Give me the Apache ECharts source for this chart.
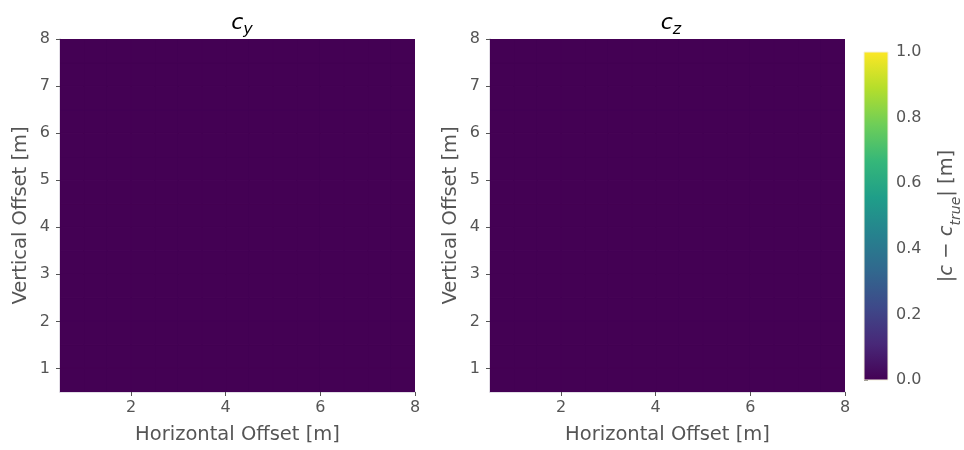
<!DOCTYPE html>
<html>
<head>
<meta charset="utf-8">
<script src="https://cdn.jsdelivr.net/npm/echarts@6/dist/echarts.min.js"></script>
<style>html,body{margin:0;padding:0;background:#fff}#c{width:964px;height:450px}</style>
</head>
<body>
<div id="c"></div>
<script>
// Cell edges (m)
var xEdges = [0.5, 1, 1.5, 2, 2.5, 3, 3.5, 4, 4.5, 5, 5.5, 6, 6.5, 7, 7.5, 8];
var yEdges = [0.5, 1, 1.5, 2, 2.5, 3, 3.5, 4, 4.5, 5, 5.5, 6, 6.5, 7, 7.5, 8];
// |c - c_true| for c_y (rows = y cells, cols = x cells)
var errCy = [
  [0,0,0,0,0,0,0,0,0,0,0,0,0,0,0],
  [0,0,0,0,0,0,0,0,0,0,0,0,0,0,0],
  [0,0,0,0,0,0,0,0,0,0,0,0,0,0,0],
  [0,0,0,0,0,0,0,0,0,0,0,0,0,0,0],
  [0,0,0,0,0,0,0,0,0,0,0,0,0,0,0],
  [0,0,0,0,0,0,0,0,0,0,0,0,0,0,0],
  [0,0,0,0,0,0,0,0,0,0,0,0,0,0,0],
  [0,0,0,0,0,0,0,0,0,0,0,0,0,0,0],
  [0,0,0,0,0,0,0,0,0,0,0,0,0,0,0],
  [0,0,0,0,0,0,0,0,0,0,0,0,0,0,0],
  [0,0,0,0,0,0,0,0,0,0,0,0,0,0,0],
  [0,0,0,0,0,0,0,0,0,0,0,0,0,0,0],
  [0,0,0,0,0,0,0,0,0,0,0,0,0,0,0],
  [0,0,0,0,0,0,0,0,0,0,0,0,0,0,0],
  [0,0,0,0,0,0,0,0,0,0,0,0,0,0,0]
];
// |c - c_true| for c_z
var errCz = [
  [0,0,0,0,0,0,0,0,0,0,0,0,0,0,0],
  [0,0,0,0,0,0,0,0,0,0,0,0,0,0,0],
  [0,0,0,0,0,0,0,0,0,0,0,0,0,0,0],
  [0,0,0,0,0,0,0,0,0,0,0,0,0,0,0],
  [0,0,0,0,0,0,0,0,0,0,0,0,0,0,0],
  [0,0,0,0,0,0,0,0,0,0,0,0,0,0,0],
  [0,0,0,0,0,0,0,0,0,0,0,0,0,0,0],
  [0,0,0,0,0,0,0,0,0,0,0,0,0,0,0],
  [0,0,0,0,0,0,0,0,0,0,0,0,0,0,0],
  [0,0,0,0,0,0,0,0,0,0,0,0,0,0,0],
  [0,0,0,0,0,0,0,0,0,0,0,0,0,0,0],
  [0,0,0,0,0,0,0,0,0,0,0,0,0,0,0],
  [0,0,0,0,0,0,0,0,0,0,0,0,0,0,0],
  [0,0,0,0,0,0,0,0,0,0,0,0,0,0,0],
  [0,0,0,0,0,0,0,0,0,0,0,0,0,0,0]
];
var xTicks = [2, 4, 6, 8];
var yTicks = [1, 2, 3, 4, 5, 6, 7, 8];
var cbTicks = [0, 0.2, 0.4, 0.6, 0.8, 1.0];
var cbRange = [0, 1];
var viridis = ['#440154','#482878','#3e4989','#31688e','#26828e','#1f9e89','#35b779','#6ece58','#b5de2b','#fde725'];

function toCells(m) {
  var out = [];
  for (var r = 0; r < m.length; r++) {
    for (var c = 0; c < m[r].length; c++) {
      out.push([xEdges[c], xEdges[c + 1], yEdges[r], yEdges[r + 1], m[r][c]]);
    }
  }
  return out;
}
function renderCell(params, api) {
  var p0 = api.coord([api.value(0), api.value(3)]);
  var p1 = api.coord([api.value(1), api.value(2)]);
  var col = api.visual('color');
  return {
    type: 'rect',
    shape: { x: p0[0], y: p0[1], width: p1[0] - p0[0], height: p1[1] - p0[1] },
    style: { fill: col, stroke: col, lineWidth: 1 }
  };
}
function renderBar(params, api) {
  var p0 = api.coord([0, api.value(1)]);
  var p1 = api.coord([1, api.value(0)]);
  var stops = viridis.map(function (c, i) { return { offset: 1 - i / (viridis.length - 1), color: c }; });
  return {
    type: 'rect',
    shape: { x: p0[0], y: p0[1], width: p1[0] - p0[0], height: p1[1] - p0[1] },
    style: { fill: new echarts.graphic.LinearGradient(0, 0, 0, 1, stops), stroke: '#f4f0dc', lineWidth: 1 }
  };
}
var FONT = 'DejaVu Sans';
var TXT = '#555555';
function xAx(gi) {
  return {
    type: 'value', gridIndex: gi, min: 0.5, max: 8,
    name: 'Horizontal Offset [m]', nameLocation: 'middle', nameGap: 33,
    nameTextStyle: { color: TXT, fontSize: 19.5, fontFamily: FONT },
    axisLine: { show: true, lineStyle: { color: '#d8d2de', width: 1.5 } },
    axisTick: { show: true, length: 4, lineStyle: { color: TXT }, customValues: xTicks },
    axisLabel: { color: TXT, fontSize: 16, fontFamily: FONT, margin: 8, customValues: xTicks },
    splitLine: { show: false }
  };
}
function yAx(gi) {
  return {
    type: 'value', gridIndex: gi, min: 0.5, max: 8,
    name: 'Vertical Offset [m]', nameLocation: 'middle', nameGap: 29,
    nameTextStyle: { color: TXT, fontSize: 19.5, fontFamily: FONT },
    axisLine: { show: true, lineStyle: { color: '#d8d2de', width: 1.5 } },
    axisTick: { show: true, length: 4, lineStyle: { color: TXT }, customValues: yTicks },
    axisLabel: { color: TXT, fontSize: 16, fontFamily: FONT, margin: 10, customValues: yTicks },
    splitLine: { show: false }
  };
}
var titleRich = {
  c: { fontFamily: FONT, fontStyle: 'italic', fontWeight: 'normal', fontSize: 22, color: '#000', lineHeight: 24, verticalAlign: 'bottom' },
  s: { fontFamily: FONT, fontStyle: 'italic', fontWeight: 'normal', fontSize: 16, color: '#000', lineHeight: 16, verticalAlign: 'bottom', padding: [0, 0, -4, 0] }
};
var chart = echarts.init(document.getElementById('c'), null, { renderer: 'canvas' });
chart.setOption({
  backgroundColor: '#ffffff',
  animation: false,
  title: [
    { text: '{c|c}{s|y}', left: 237, top: 5, textAlign: 'center', textStyle: { fontWeight: 'normal', rich: titleRich } },
    { text: '{c|c}{s|z}', left: 666, top: 5, textAlign: 'center', textStyle: { fontWeight: 'normal', rich: titleRich } }
  ],
  grid: [
    { left: 60, top: 39, width: 355, height: 353 },
    { left: 490, top: 39, width: 355, height: 353 },
    { left: 864, top: 52, width: 30, height: 328 }
  ],
  xAxis: [
    xAx(0), xAx(1),
    { type: 'value', gridIndex: 2, min: 0, max: 1, show: false }
  ],
  yAxis: [
    yAx(0), yAx(1),
    {
      type: 'value', gridIndex: 2, min: 0, max: 1, position: 'right',
      name: '{n||}{i|c}{n| − }{i|c}{sub|true}{n|| [m]}', nameLocation: 'middle', nameGap: 49, nameRotate: 90,
      nameTextStyle: { rich: {
        n: { color: TXT, fontSize: 19.5, fontFamily: FONT },
        i: { color: TXT, fontSize: 19.5, fontFamily: FONT, fontStyle: 'italic' },
        sub: { color: TXT, fontSize: 14, fontFamily: FONT, fontStyle: 'italic', verticalAlign: 'bottom', padding: [0, 0, -6, 0] }
      } },
      axisLine: { show: false },
      axisTick: { show: true, length: 4, lineStyle: { color: TXT }, customValues: cbTicks },
      axisLabel: { color: TXT, fontSize: 16, fontFamily: FONT, margin: 8, customValues: cbTicks,
        formatter: function (v) { return v.toFixed(1); } },
      splitLine: { show: false }
    }
  ],
  visualMap: [{
    type: 'continuous', show: false, min: 0, max: 1, dimension: 4, seriesIndex: [0, 1],
    inRange: { color: viridis }
  }],
  series: [
    { type: 'custom', xAxisIndex: 0, yAxisIndex: 0, renderItem: renderCell, encode: { x: [0, 1], y: [2, 3] }, data: toCells(errCy), clip: true, silent: true },
    { type: 'custom', xAxisIndex: 1, yAxisIndex: 1, renderItem: renderCell, encode: { x: [0, 1], y: [2, 3] }, data: toCells(errCz), clip: true, silent: true },
    { type: 'custom', xAxisIndex: 2, yAxisIndex: 2, renderItem: renderBar, encode: { y: [0, 1] }, data: [cbRange], silent: true }
  ]
});
</script>
</body>
</html>
